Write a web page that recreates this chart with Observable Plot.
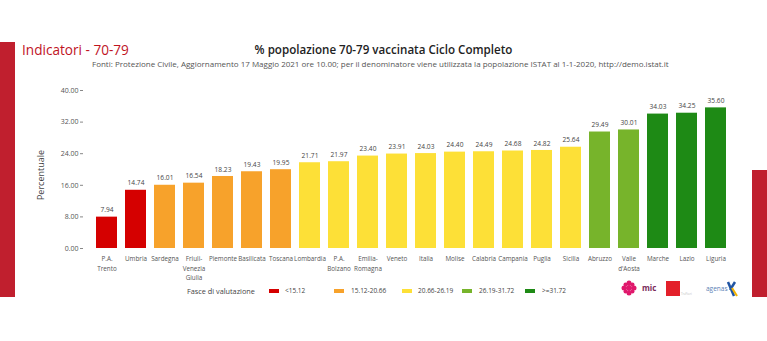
<!DOCTYPE html>
<html>
<head>
<meta charset="utf-8">
<script src="https://cdn.jsdelivr.net/npm/d3@7"></script>
<script src="https://cdn.jsdelivr.net/npm/@observablehq/plot@0.6"></script>
<style>
  html, body { margin: 0; padding: 0; background: #fff; }
  #page { position: relative; width: 767px; height: 341px; overflow: hidden; background: #fff; font-family: "Open Sans", "Noto Sans", sans-serif; }
  .abs { position: absolute; white-space: nowrap; }
  #leftbar { left: 0; top: 42px; width: 15px; height: 255px; background: #c01f2e; }
  #rightbar { left: 752px; top: 170px; width: 15px; height: 127px; background: #c01f2e; }
  #brand { left: 22px; top: 40px; font-size: 13.6px; color: #c0141f; }
  #title { left: 0; width: 767px; text-align: center; top: 42px; font-size: 11.6px; font-weight: 600; color: #222; }
  #subtitle { left: 92px; top: 58px; font-size: 8px; color: #555; }
  #chart { left: 0; top: 80px; }
  #ylabel { left: 40px; top: 175px; font-size: 9px; color: #444; transform: translate(-50%, -50%) rotate(-90deg); }
  .leg { font-size: 6.5px; color: #444; top: 287px; line-height: 8px; }
  .sw { position: absolute; width: 10px; height: 4px; top: 289px; }
</style>
</head>
<body>
<div id="page">
  <div id="leftbar" class="abs"></div>
  <div id="rightbar" class="abs"></div>
  <div id="brand" class="abs">Indicatori - 70-79</div>
  <div id="title" class="abs">% popolazione 70-79 vaccinata Ciclo Completo</div>
  <div id="subtitle" class="abs">Fonti: Protezione Civile, Aggiornamento 17 Maggio 2021 ore 10.00; per il denominatore viene utilizzata la popolazione ISTAT al 1-1-2020, http://demo.istat.it</div>
  <div id="ylabel" class="abs">Percentuale</div>
  <div id="chart" class="abs"></div>
  <div id="legend"></div>
  <div id="logos"></div>
</div>
<script>
const regions = ["P.A. Trento","Umbria","Sardegna","Friuli-Venezia Giulia","Piemonte","Basilicata","Toscana","Lombardia","P.A. Bolzano","Emilia-Romagna","Veneto","Italia","Molise","Calabria","Campania","Puglia","Sicilia","Abruzzo","Valle d'Aosta","Marche","Lazio","Liguria"];
const tickLabels = ["P.A.\nTrento","Umbria","Sardegna","Friuli-\nVenezia\nGiulia","Piemonte","Basilicata","Toscana","Lombardia","P.A.\nBolzano","Emilia-\nRomagna","Veneto","Italia","Molise","Calabria","Campania","Puglia","Sicilia","Abruzzo","Valle\nd'Aosta","Marche","Lazio","Liguria"];
const values = [7.94,14.74,16.01,16.54,18.23,19.43,19.95,21.71,21.97,23.40,23.91,24.03,24.40,24.49,24.68,24.82,25.64,29.49,30.01,34.03,34.25,35.60];
const bands = ["<15.12","15.12-20.66","20.66-26.19","26.19-31.72",">=31.72"];
const thresholds = [15.12,20.66,26.19,31.72];
const bandColors = ["#d50000","#f7a22b","#fde037","#77b42b","#1e8a15"];
const yTicks = [0,8,16,24,32,40];
const legendTitle = "Fasce di valutazione";

const data = regions.map((r, i) => ({
  region: r,
  value: values[i],
  band: bands[thresholds.filter(t => values[i] >= t).length]
}));
const labelOf = new Map(regions.map((r, i) => [r, tickLabels[i]]));

const chart = Plot.plot({
  width: 767,
  height: 205,
  marginTop: 10,
  marginBottom: 37,
  marginLeft: 83,
  marginRight: 35.5,
  style: { fontFamily: "'Open Sans', 'Noto Sans', sans-serif", background: "transparent", overflow: "visible" },
  x: { domain: regions, paddingInner: 0.26, paddingOuter: 0.13, insetLeft: 8.5 },
  y: { domain: [0, 40] },
  color: { domain: bands, range: bandColors },
  marks: [
    Plot.barY(data, { x: "region", y: "value", fill: "band" }),
    Plot.text(data, { x: "region", y: "value", text: d => d.value.toFixed(2), dy: -7, fontSize: 6.6, fill: "#444" }),
    Plot.axisY({ ticks: yTicks, tickFormat: d => d.toFixed(2), tickSize: 3, tickPadding: 2, fontSize: 7, color: "#555", stroke: "#888", label: null }),
    Plot.axisX({ tickSize: 0, tickPadding: 6, tickFormat: r => labelOf.get(r), fontSize: 6.3, lineHeight: 1.5, fill: "#555", label: null, lineAnchor: "top" })
  ]
});
document.getElementById("chart").appendChild(chart);

// legend
const page = document.getElementById("page");
const legendX = { title: 187, sw: [269, 334, 402, 462, 525], tx: [285, 351, 418, 479, 542] };
const t = document.createElement("div");
t.className = "abs leg"; t.style.left = legendX.title + "px"; t.style.fontSize = "7.3px"; t.style.top = "286.5px";
t.textContent = legendTitle; page.appendChild(t);
bands.forEach((b, i) => {
  const s = document.createElement("div");
  s.className = "sw"; s.style.left = legendX.sw[i] + "px"; s.style.background = bandColors[i];
  page.appendChild(s);
  const l = document.createElement("div");
  l.className = "abs leg"; l.style.left = legendX.tx[i] + "px"; l.textContent = b;
  page.appendChild(l);
});

// logos (approximate)
const logos = document.getElementById("logos");
logos.innerHTML = `
<svg class="abs" style="left:618px;top:278px" width="125" height="22">
  <g fill="#e0186c">
    <circle cx="11" cy="10" r="3"/>
    <circle cx="11" cy="5" r="2.5"/><circle cx="11" cy="15" r="2.5"/>
    <circle cx="6" cy="10" r="2.5"/><circle cx="16" cy="10" r="2.5"/>
    <circle cx="7.5" cy="6.5" r="2"/><circle cx="14.5" cy="6.5" r="2"/>
    <circle cx="7.5" cy="13.5" r="2"/><circle cx="14.5" cy="13.5" r="2"/>
  </g>
  <text x="24" y="13" font-size="8" font-family="Open Sans" fill="#7a2a5a" font-weight="700">mic</text>
  <rect x="48" y="3" width="14" height="15" fill="#e3202a"/>
  <text x="63" y="17" font-size="3" fill="#bbb" font-family="Open Sans">TreFiori</text>
  <text x="88" y="13" font-size="6.5" fill="#5a7fb5" font-family="Open Sans">agenas</text>
  <path d="M110 4 L116 18 M117 4 L112 12" stroke="#2155a3" stroke-width="2.5" fill="none"/>
  <path d="M114 10 L119 18" stroke="#f4b400" stroke-width="2" fill="none"/>
</svg>`;
</script>
</body>
</html>
